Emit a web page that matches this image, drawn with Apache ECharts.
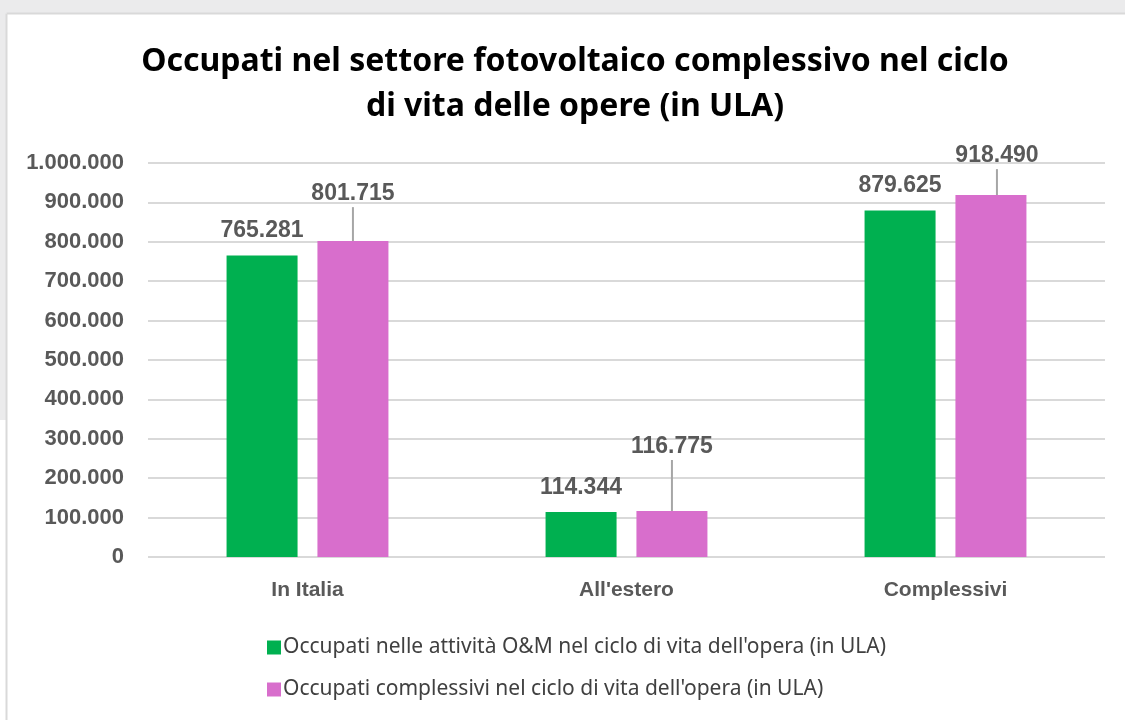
<!DOCTYPE html>
<html>
<head>
<meta charset="utf-8">
<script src="https://cdn.jsdelivr.net/npm/echarts@6/dist/echarts.min.js"></script>
<style>
  html, body { margin: 0; padding: 0; background: #fff; }
  #chart { width: 1125px; height: 720px; }
</style>
</head>
<body>
<div id="chart"></div>
<script>
const categories = ['In Italia', "All'estero", 'Complessivi']
const seriesNames = [
  "Occupati nelle attività O&M nel ciclo di vita dell'opera (in ULA)",
  "Occupati complessivi nel ciclo di vita dell'opera (in ULA)"
]
const omValues = [765281, 114344, 879625]
const totalValues = [801715, 116775, 918490]

// label nudges for the pink series (leader lines in the original)
const pinkLabelShift = [[0, -29], [0, -46], [6, -21]]

function fmt(v) {
  return String(v).replace(/\B(?=(\d{3})+(?!\d))/g, '.')
}

const chart = echarts.init(document.getElementById('chart'), null, { renderer: 'canvas' })

const labelFont = { fontFamily: 'Liberation Sans', fontWeight: 'bold', fontSize: 23, color: '#595959' }

chart.setOption({
  animation: false,
  backgroundColor: '#ffffff',
  graphic: [
    { type: 'rect', shape: { x: 0, y: 0, width: 1125, height: 13 }, style: { fill: '#ebebec' }, silent: true },
    { type: 'rect', shape: { x: 0, y: 0, width: 6, height: 420 }, style: { fill: '#ebebec' }, silent: true },
    { type: 'line', shape: { x1: 6.5, y1: 13.5, x2: 1125, y2: 13.5 }, style: { stroke: '#d9d9d9', lineWidth: 2 }, silent: true },
    { type: 'line', shape: { x1: 6.5, y1: 13.5, x2: 6.5, y2: 720 }, style: { stroke: '#d9d9d9', lineWidth: 2 }, silent: true }
  ],
  title: {
    text: 'Occupati nel settore fotovoltaico complessivo nel ciclo\ndi vita delle opere (in ULA)',
    left: 570,
    textAlign: 'center',
    top: 34,
    textStyle: {
      fontFamily: 'Noto Sans',
      fontWeight: 'bold',
      fontSize: 32,
      lineHeight: 45,
      color: '#000000'
    }
  },
  grid: { left: 148, right: 20, top: 163, bottom: 163, containLabel: false },
  xAxis: {
    type: 'category',
    data: categories,
    axisLine: { show: false },
    axisTick: { show: false },
    axisLabel: {
      margin: 23,
      fontFamily: 'Liberation Sans',
      fontWeight: 'bold',
      fontSize: 21,
      color: '#595959'
    }
  },
  yAxis: {
    type: 'value',
    min: 0,
    max: 1000000,
    interval: 100000,
    axisLine: { show: false },
    axisTick: { show: false },
    splitLine: { lineStyle: { color: '#d9d9d9', width: 2 } },
    axisLabel: {
      margin: 24,
      formatter: fmt,
      fontFamily: 'Liberation Sans',
      fontWeight: 'bold',
      fontSize: 22,
      color: '#595959'
    }
  },
  legend: {
    orient: 'vertical',
    left: 262,
    top: 632,
    itemWidth: 14,
    itemHeight: 14,
    itemGap: 21,
    icon: 'rect',
    data: seriesNames,
    textStyle: { fontFamily: 'Noto Sans', fontSize: 21, color: '#404040', padding: [0, 0, 0, -3] }
  },
  series: [
    {
      name: seriesNames[0],
      type: 'bar',
      data: omValues,
      barWidth: 71,
      barGap: '28%',
      itemStyle: { color: '#00b050' },
      label: Object.assign({ show: true, position: 'top', distance: 13, formatter: p => fmt(p.value) }, labelFont)
    },
    {
      name: seriesNames[1],
      type: 'bar',
      data: totalValues,
      barWidth: 71,
      itemStyle: { color: '#d86ecc' },
      label: Object.assign({
        show: true,
        position: 'top',
        distance: 5,
        formatter: p => fmt(p.value) + '\n{g|}',
        rich: { g: { height: 2, lineHeight: 2, fontSize: 1 } }
      }, labelFont),
      labelLine: { show: true, lineStyle: { color: '#a6a6a6', width: 2 } },
      labelLayout: function (params) {
        const s = pinkLabelShift[params.dataIndex]
        return { dx: s[0], dy: s[1] }
      }
    }
  ]
})
</script>
</body>
</html>
